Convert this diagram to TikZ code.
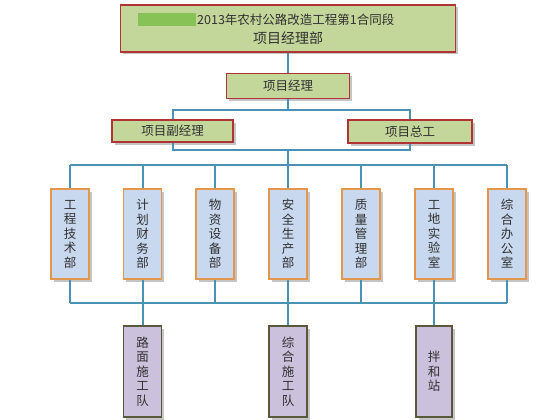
\documentclass[tikz,border=0pt]{standalone}
\usepackage{fontspec}
\setmainfont{Noto Sans CJK SC}
\usetikzlibrary{shadows}
\definecolor{linec}{HTML}{4A92B4}
\definecolor{redb}{HTML}{B03434}
\definecolor{olivef}{HTML}{C4D79B}
\definecolor{orangeb}{HTML}{E3964C}
\definecolor{bluef}{HTML}{C8D8EE}
\definecolor{purplef}{HTML}{CCC1DC}
\definecolor{darkb}{HTML}{5A583C}
\definecolor{greenbar}{HTML}{86C256}
\definecolor{txt}{HTML}{303030}
\tikzset{
  conn/.style={draw=linec, line width=2pt},
  shad/.style={drop shadow={shadow xshift=2.5pt, shadow yshift=-2.5pt, fill=black!45, opacity=0.5}},
  headbox/.style={draw=redb, fill=olivef, line width=1.8pt, shad, inner sep=0pt, text=txt, font=\fontsize{12.5}{14}\selectfont},
  deptbox/.style={draw=orangeb, fill=bluef, line width=1.8pt, shad, inner sep=0pt, text=txt,
     minimum width=38pt, minimum height=90pt, align=center, font=\fontsize{12.5}{14.5}\selectfont},
  teambox/.style={draw=darkb, fill=purplef, line width=1.8pt, shad, inner sep=0pt, text=txt,
     minimum width=38pt, minimum height=91pt, align=center, font=\fontsize{12.5}{14.5}\selectfont},
}
\begin{document}
\begin{tikzpicture}[x=1pt,y=-1pt]
\useasboundingbox (0,0) rectangle (560,420);
% top
\node[headbox, minimum width=335pt, minimum height=47pt] (top) at (288,28.5) {};
\node[fill=greenbar, minimum width=58pt, minimum height=13pt, inner sep=0pt] (bar) at (167,20) {};
\node[anchor=west, inner sep=0pt, text=txt, font=\fontsize{12.5}{14}\selectfont] (t1) at (197,20) {2013年农村公路改造工程第1合同段};
\node[inner sep=0pt, text=txt, font=\fontsize{14}{16}\selectfont] (t2) at (288,38) {项目经理部};
% level 2
\node[headbox, minimum width=123pt, minimum height=25pt] (pm) at (288,86) {项目经理};
\node[headbox, minimum width=121pt, minimum height=22pt] (dpm) at (172.5,131) {项目副经理};
\node[headbox, minimum width=124pt, minimum height=23pt] (ce) at (410,131.5) {项目总工};
% departments
\node[deptbox] (d1) at (70,234) {工\\程\\技\\术\\部};
\node[deptbox] (d2) at (142.5,234) {计\\划\\财\\务\\部};
\node[deptbox] (d3) at (215,234) {物\\资\\设\\备\\部};
\node[deptbox] (d4) at (288,234) {安\\全\\生\\产\\部};
\node[deptbox] (d5) at (361,234) {质\\量\\管\\理\\部};
\node[deptbox] (d6) at (434,234) {工\\地\\实\\验\\室};
\node[deptbox] (d7) at (507,234) {综\\合\\办\\公\\室};
% teams
\node[teambox] (b1) at (142.5,371.5) {路\\面\\施\\工\\队};
\node[teambox] (b2) at (288,371.5) {综\\合\\施\\工\\队};
\node[teambox, minimum width=36pt] (b3) at (434,371.5) {拌\\和\\站};
% hubs
\coordinate (h1) at (288,110);
\coordinate (h2) at (288,150);
\coordinate (h3) at (288,165);
\coordinate (h4) at (288,303);
% connectors
\draw[conn] (top.south) -- (pm.north);
\draw[conn] (pm.south) -- (h1);
\draw[conn] (dpm.north) -- (dpm.north |- h1) -- (ce.north |- h1) -- (ce.north);
\draw[conn] (dpm.south) -- (dpm.south |- h2) -- (ce.south |- h2) -- (ce.south);
\draw[conn] (h2) -- (h3);
\draw[conn] (d1.north |- h3) -- (d7.north |- h3);
\foreach \d in {d1,d2,d3,d4,d5,d6,d7}{
  \draw[conn] (\d.north) -- (\d.north |- h3);
  \draw[conn] (\d.south) -- (\d.south |- h4);
}
\draw[conn] (d1.south |- h4) -- (d7.south |- h4);
\foreach \b in {b1,b2,b3}{
  \draw[conn] (\b.north |- h4) -- (\b.north);
}
\end{tikzpicture}
\end{document}
